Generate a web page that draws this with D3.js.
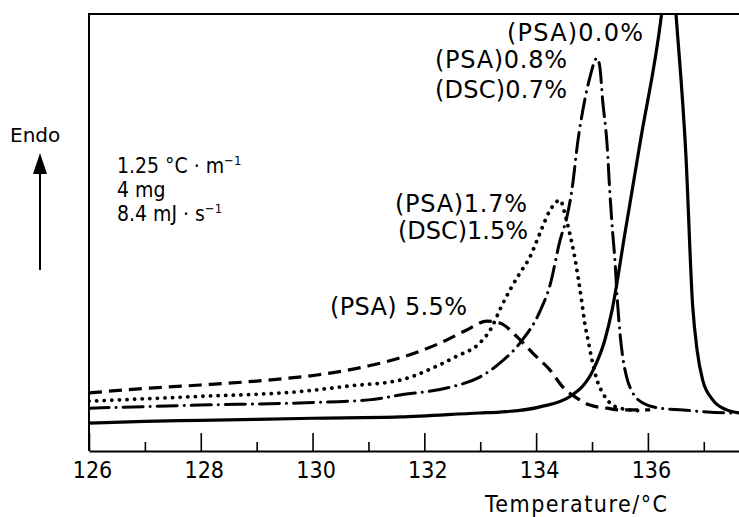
<!DOCTYPE html>
<html><head><meta charset="utf-8">
<script src="https://cdn.jsdelivr.net/npm/d3@7"></script>
<style>
body{margin:0;background:#fff;}
svg text{fill:#000;}
</style>
</head><body>
<svg id="chart" width="739" height="517"></svg>
<script>
// ---------- data ----------
const majorTicks = [126, 128, 130, 132, 134, 136];
const minorTicks = [127, 129, 131, 133, 135, 137];
const tickLabels = ["126", "128", "130", "132", "134", "136"];

// PSA 0.0 % (solid)
const solidT = [126.0, 127.0, 128.0, 130.0, 131.56, 132.99, 133.35, 134.07, 134.62, 135.02, 135.23, 135.36, 135.59, 135.77, 135.86, 136.25, 136.40, 136.50, 136.68, 136.80, 136.88, 136.98, 137.16, 137.41, 137.63];
const solidV = [6.4, 6.8, 7.0, 7.5, 7.8, 8.7, 8.9, 10.1, 12.6, 18.5, 25.4, 32.3, 49.9, 63.6, 70.5, 100.5, 118, 100.5, 67.7, 33.4, 23.1, 16.2, 11.7, 9.4, 8.7];

// PSA 0.8 % / DSC 0.7 % (dash-dot)
const dashDotT = [126.0, 127.99, 129.77, 131.01, 131.56, 132.46, 132.99, 133.35, 133.71, 134.07, 134.25, 134.43, 134.55, 134.64, 134.75, 134.87, 134.96, 135.09, 135.14, 135.19, 135.27, 135.32, 135.37, 135.41, 135.45, 135.50, 135.55, 135.62, 135.73, 135.91, 136.21, 136.63, 137.06, 137.52];
const dashDotV = [9.8, 10.5, 11.0, 11.7, 12.8, 14.6, 16.9, 20.1, 24.7, 32.0, 38.0, 48.3, 53.5, 59.7, 71.2, 80.3, 85.4, 89.9, 87.9, 80.3, 70.0, 59.0, 49.9, 43.7, 35.2, 27.0, 21.5, 16.9, 13.3, 11.0, 9.8, 9.4, 8.9, 8.7];

// PSA 1.7 % / DSC 1.5 % (dotted)
const dottedT = [126.0, 127.99, 129.77, 130.67, 131.56, 132.15, 132.58, 132.99, 133.21, 133.35, 133.53, 133.71, 133.89, 134.07, 134.25, 134.43, 134.52, 134.60, 134.69, 134.75, 134.82, 134.87, 134.93, 135.00, 135.09, 135.19, 135.32, 135.50, 135.86];
const dottedV = [11.4, 12.5, 13.6, 14.9, 16.2, 19.0, 21.7, 24.7, 28.4, 32.3, 36.8, 40.7, 44.4, 49.9, 55.1, 57.4, 54.0, 49.9, 44.4, 39.8, 33.9, 29.3, 25.4, 20.8, 16.2, 13.3, 11.0, 9.8, 9.2];

// PSA 5.5 % (dashed)
const dashedT = [126.0, 127.09, 127.99, 129.18, 130.08, 130.54, 131.01, 131.56, 132.28, 132.76, 133.12, 133.35, 133.66, 133.94, 134.25, 134.48, 134.73, 134.96, 135.27, 135.50, 136.04];
const dashedV = [13.3, 14.4, 15.1, 16.2, 17.4, 18.3, 19.5, 21.3, 24.7, 27.7, 29.7, 29.3, 26.1, 22.4, 18.5, 14.6, 12.1, 10.5, 9.8, 9.4, 9.4];

const curveLabels = ["(PSA)0.0%", "(PSA)0.8%", "(DSC)0.7%", "(PSA)1.7%", "(DSC)1.5%", "(PSA) 5.5%"];
const xTitle = "Temperature/°C";
const yTitle = "Endo";

// ---------- layout ----------
const M = {left: 89, right: 739, top: 14, bottom: 451};
const svg = d3.select("#chart");

const x = d3.scaleLinear().domain([126, 137.63]).range([M.left, M.right]);
const y = d3.scaleLinear().domain([0, 100]).range([M.bottom, M.top]);

svg.append("defs").append("clipPath").attr("id", "plotclip")
  .append("rect").attr("x", M.left).attr("y", M.top).attr("width", M.right - M.left).attr("height", M.bottom - M.top);

// frame (left and top)
svg.append("line").attr("x1", M.left).attr("x2", M.left).attr("y1", M.top).attr("y2", M.bottom)
  .attr("stroke", "#000").attr("stroke-width", 2);
svg.append("line").attr("x1", M.left - 1).attr("x2", M.right).attr("y1", M.top).attr("y2", M.top)
  .attr("stroke", "#000").attr("stroke-width", 2);

// x axis
const tickFont = "'DejaVu Sans Condensed','DejaVu Sans',sans-serif";
const axisMajor = d3.axisBottom(x).tickValues(majorTicks)
  .tickSizeInner(-18).tickSizeOuter(0).tickPadding(11)
  .tickFormat((d, i) => tickLabels[i]);
const gx = svg.append("g").attr("transform", `translate(0,${M.bottom})`).call(axisMajor);
gx.select(".domain").attr("stroke", "#000").attr("stroke-width", 2);
gx.selectAll(".tick line").attr("stroke", "#000").attr("stroke-width", 1.6);
gx.selectAll(".tick text").attr("font-family", tickFont).attr("font-size", 23).attr("fill", "#000")
  .attr("dx", 3);

const axisMinor = d3.axisBottom(x).tickValues(minorTicks)
  .tickSizeInner(-9).tickSizeOuter(0).tickFormat("");
const gm = svg.append("g").attr("transform", `translate(0,${M.bottom})`).call(axisMinor);
gm.select(".domain").remove();
gm.selectAll(".tick line").attr("stroke", "#000").attr("stroke-width", 1.6);

// x title
svg.append("text").attr("x", 485).attr("y", 512)
  .attr("font-family", tickFont).attr("font-size", 23)
  .attr("textLength", 182).attr("lengthAdjust", "spacing")
  .text(xTitle);

// Endo arrow
svg.append("text").attr("x", 10).attr("y", 142)
  .attr("font-family", "'DejaVu Sans',sans-serif").attr("font-size", 20)
  .text(yTitle);
svg.append("line").attr("x1", 40).attr("x2", 40).attr("y1", 270).attr("y2", 168)
  .attr("stroke", "#000").attr("stroke-width", 2);
svg.append("path").attr("d", "M33,174 L40,153 L47,174 Z").attr("fill", "#000");

// conditions text
const condFont = "'DejaVu Sans Condensed','DejaVu Sans',sans-serif";
const c1 = svg.append("text").attr("x", 117).attr("y", 173).attr("font-family", condFont).attr("font-size", 21);
c1.append("tspan").text("1.25 °C · m");
c1.append("tspan").attr("dy", -8).attr("font-size", 13).text("−1");
svg.append("text").attr("x", 117).attr("y", 197).attr("font-family", condFont).attr("font-size", 21).text("4 mg");
const c3 = svg.append("text").attr("x", 117).attr("y", 221).attr("font-family", condFont).attr("font-size", 21);
c3.append("tspan").text("8.4 mJ · s");
c3.append("tspan").attr("dy", -8).attr("font-size", 13).text("−1");

// curves
const line = d3.line().x(d => x(d[0])).y(d => y(d[1])).curve(d3.curveMonotoneX);
const plot = svg.append("g").attr("clip-path", "url(#plotclip)");
function drawCurve(T, V, dash, width, cap) {
  plot.append("path").datum(d3.zip(T, V)).attr("d", line)
    .attr("fill", "none").attr("stroke", "#000").attr("stroke-width", width)
    .attr("stroke-dasharray", dash).attr("stroke-linecap", cap).attr("stroke-linejoin", "round");
}
drawCurve(dashedT, dashedV, "13,7", 3.2, "butt");
drawCurve(dottedT, dottedV, "0.1,7.5", 3.8, "round");
drawCurve(dashDotT, dashDotV, "20,7,0.1,7", 3.0, "round");
drawCurve(solidT, solidV, null, 3.2, "round");

// curve labels
const labelFont = "'DejaVu Sans',sans-serif";
const labelPos = [[507, 41, 136], [435, 68, 132], [435, 98, 132], [395, 212, 132], [398, 239, 130], [330, 315, 137]];
curveLabels.forEach((t, i) => {
  svg.append("text").attr("x", labelPos[i][0]).attr("y", labelPos[i][1])
    .attr("font-family", labelFont).attr("font-size", 24)
    .attr("textLength", labelPos[i][2]).attr("lengthAdjust", "spacing")
    .text(t);
});
</script>
</body></html>
